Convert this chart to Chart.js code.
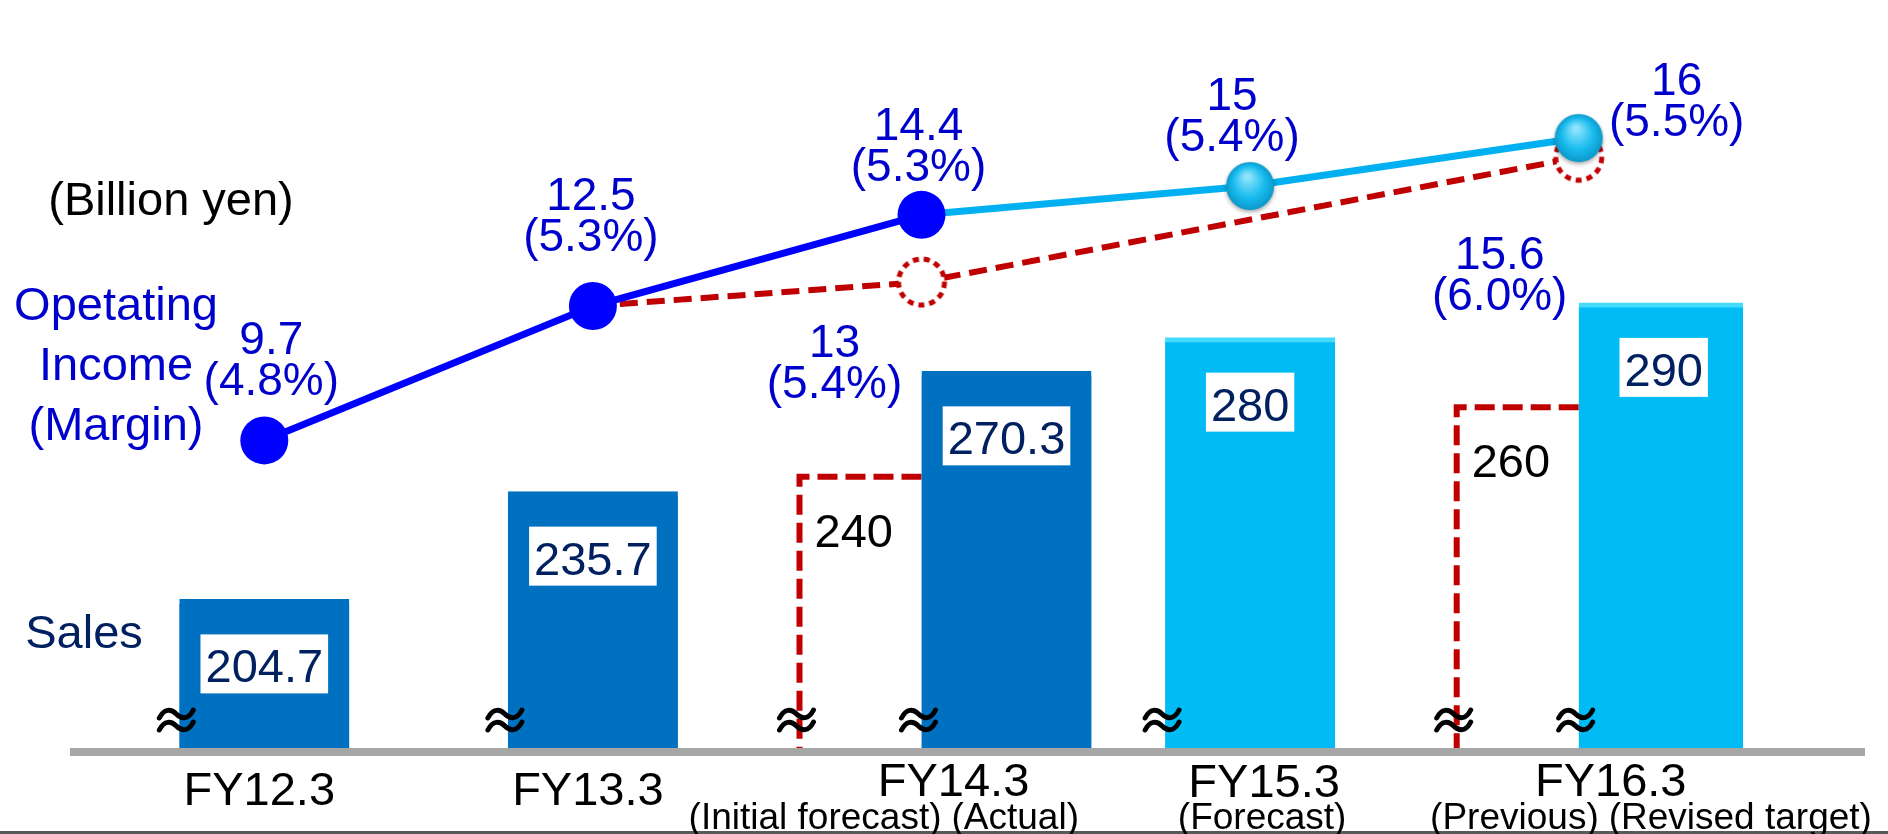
<!DOCTYPE html>
<html>
<head>
<meta charset="utf-8">
<script src="https://cdn.jsdelivr.net/npm/chart.js@4.4.0/dist/chart.umd.min.js"></script>
<style>
  html, body { margin: 0; padding: 0; background: #fff; }
  #wrap { width: 1888px; height: 834px; }
</style>
</head>
<body>
<div id="wrap"><canvas id="myChart" width="1888" height="834"></canvas></div>
<script>
const years = ['FY12.3', 'FY13.3', 'FY14.3', 'FY15.3', 'FY16.3'];
const yearNotes = [null, null, ['(Initial forecast)', '(Actual)'], ['(Forecast)'], ['(Previous)', '(Revised target)']];

// Sales (billion yen): earlier plan and actual / current target
const salesPlan = [null, null, 240, null, 260];
const salesActual = [204.7, 235.7, 270.3, 280, 290];

// Operating income (billion yen) and margin (%)
const incomeActual = [9.7, 12.5, 14.4, 15, 16];
const marginActual = [4.8, 5.3, 5.3, 5.4, 5.5];
const incomePlan = [null, 12.5, 13, null, 15.6];
const marginPlan = [null, null, 5.4, null, 6.0];

// broken value axes
const salesAxis = {min: 160.8, max: 368.5};
const incomeAxis = {min: 3.21, max: 18.25};

const FONT = '"Liberation Sans", Arial, sans-serif';
const BLUE_TXT = '#0000CC';
const NAVY = '#002060';
const RED = '#C00000';
const DARK_BAR = '#0070C0';
const LIGHT_BAR = '#00BBF4';

// label offsets from each point, first-line baseline
const incomeLabelPos = [[7, -86], [-2, -96], [-3, -75], [-18, -76], [98, -43]];
const planLabelPos = [null, null, [-87, 75], null, [-79, 112]];

function dottedMarker() {
    const c = document.createElement('canvas');
    c.width = 60; c.height = 60;
    const g = c.getContext('2d');
    g.beginPath();
    g.arc(30, 30, 23, 0, Math.PI * 2);
    g.fillStyle = '#fff';
    g.fill();
    g.setLineDash([6, 5]);
    g.lineWidth = 5;
    g.strokeStyle = RED;
    g.stroke();
    return c;
}

function glossyMarker() {
    const c = document.createElement('canvas');
    c.width = 64; c.height = 64;
    const g = c.getContext('2d');
    g.shadowColor = 'rgba(0,0,0,0.35)';
    g.shadowBlur = 4;
    g.shadowOffsetY = 2;
    const grad = g.createRadialGradient(29, 22, 2, 32, 32, 25);
    grad.addColorStop(0, '#8fe4fb');
    grad.addColorStop(0.6, '#19bbef');
    grad.addColorStop(1, '#0a95c6');
    g.beginPath();
    g.arc(32, 32, 24, 0, Math.PI * 2);
    g.fillStyle = grad;
    g.fill();
    return c;
}

// axis-break sign: two stacked tildes
function breakMark(ctx, x, y) {
    ctx.beginPath();
    [-6, 6].forEach(dy => {
        const yy = y + dy;
        ctx.moveTo(x - 17, yy + 4);
        ctx.bezierCurveTo(x - 12, yy - 6, x - 5, yy - 5, x, yy);
        ctx.bezierCurveTo(x + 5, yy + 5, x + 12, yy + 6, x + 17, yy - 4);
    });
    ctx.stroke();
}

const dotted = dottedMarker();
const glossy = glossyMarker();

const decorations = {
    id: 'decorations',
    beforeDatasetsDraw(chart) {
        // dashed outline of the plan bars; right side hides behind the actual bar
        const ctx = chart.ctx;
        const meta = chart.getDatasetMeta(2);
        const bottom = chart.chartArea.bottom;
        ctx.save();
        ctx.strokeStyle = RED;
        ctx.lineWidth = 6;
        ctx.setLineDash([20, 8]);
        meta.data.forEach((bar, i) => {
            if (salesPlan[i] == null) return;
            const {x, y, base, width} = bar.getProps(['x', 'y', 'base', 'width'], true);
            const b = Math.min(base, bottom);
            const l = x - width / 2, r = x + width / 2;
            ctx.beginPath();
            ctx.moveTo(r, y);
            ctx.lineTo(l, y);
            ctx.lineTo(l, b);
            ctx.lineTo(r, b);
            ctx.stroke();
        });
        ctx.restore();
    },
    afterDatasetsDraw(chart) {
        const ctx = chart.ctx;
        const xScale = chart.scales.x;
        ctx.save();

        // axis line and bottom rule
        ctx.fillStyle = '#A6A6A6';
        ctx.fillRect(70, 748, 1795, 8);
        ctx.fillStyle = '#595959';
        ctx.fillRect(0, 831, 1888, 3);

        // break marks at the left foot of every bar
        ctx.strokeStyle = '#000';
        ctx.lineWidth = 5;
        ctx.lineCap = 'round';
        [2, 3].forEach(di => {
            const src = di === 2 ? salesPlan : salesActual;
            chart.getDatasetMeta(di).data.forEach((bar, i) => {
                if (src[i] == null) return;
                const {x, width} = bar.getProps(['x', 'width'], true);
                breakMark(ctx, x - width / 2 - 3, 720);
            });
        });

        ctx.textBaseline = 'alphabetic';
        ctx.textAlign = 'center';

        // sales values in white boxes
        ctx.font = '47px ' + FONT;
        chart.getDatasetMeta(3).data.forEach((bar, i) => {
            const txt = String(salesActual[i]);
            const w = ctx.measureText(txt).width + 10;
            const top = bar.y + 35;
            ctx.fillStyle = '#fff';
            ctx.fillRect(bar.x - w / 2, top, w, 59);
            ctx.fillStyle = NAVY;
            ctx.fillText(txt, bar.x, top + 48);
        });

        // plan sales values
        ctx.textAlign = 'left';
        ctx.fillStyle = '#000';
        chart.getDatasetMeta(2).data.forEach((bar, i) => {
            if (salesPlan[i] == null) return;
            const {x, y, width} = bar.getProps(['x', 'y', 'width'], true);
            ctx.fillText(String(salesPlan[i]), x - width / 2 + 15, y + 70);
        });

        // operating income labels
        ctx.textAlign = 'center';
        ctx.fillStyle = BLUE_TXT;
        ctx.font = '46px ' + FONT;
        const drawIncome = (meta, values, margins, pos) => {
            meta.data.forEach((pt, i) => {
                if (margins[i] == null || !pos[i]) return;
                const lx = pt.x + pos[i][0], ly = pt.y + pos[i][1];
                ctx.fillText(String(values[i]), lx, ly);
                ctx.fillText('(' + margins[i].toFixed(1) + '%)', lx, ly + 41);
            });
        };
        drawIncome(chart.getDatasetMeta(0), incomeActual, marginActual, incomeLabelPos);
        drawIncome(chart.getDatasetMeta(1), incomePlan, marginPlan, planLabelPos);

        // category labels
        ctx.fillStyle = '#000';
        years.forEach((name, i) => {
            const cx = xScale.getPixelForValue(i);
            const notes = yearNotes[i];
            ctx.font = '47px ' + FONT;
            ctx.textAlign = 'center';
            if (!notes) {
                ctx.fillText(name, cx - 5, 805);
            } else if (notes.length === 1) {
                ctx.fillText(name, cx + 14, 797);
                ctx.font = '37px ' + FONT;
                ctx.fillText(notes[0], cx + 12, 829);
            } else {
                const j = cx + 24;
                ctx.fillText(name, j + 8, 796);
                ctx.font = '37px ' + FONT;
                ctx.textAlign = 'right';
                ctx.fillText(notes[0], j - 4, 829);
                ctx.textAlign = 'left';
                ctx.fillText(notes[1], j + 6, 829);
            }
        });

        // side captions
        ctx.textAlign = 'center';
        ctx.font = '47px ' + FONT;
        ctx.fillStyle = '#000';
        ctx.fillText('(Billion yen)', 171, 215);
        ctx.fillStyle = BLUE_TXT;
        ctx.fillText('Opetating', 116, 320);
        ctx.fillText('Income', 116, 380);
        ctx.fillText('(Margin)', 116, 440);
        ctx.fillStyle = NAVY;
        ctx.fillText('Sales', 84, 648);

        ctx.restore();
    }
};

const ctx = document.getElementById('myChart').getContext('2d');
const myChart = new Chart(ctx, {
    type: 'bar',
    data: {
        labels: years,
        datasets: [
            {
                type: 'line',
                label: 'Operating income',
                data: incomeActual,
                yAxisID: 'yInc',
                borderColor: '#0000FF',
                borderWidth: 7,
                segment: {
                    borderColor: c => c.p0DataIndex >= 2 ? '#00B0F0' : '#0000FF'
                },
                pointStyle: ['circle', 'circle', 'circle', glossy, glossy],
                pointRadius: 24,
                pointBackgroundColor: '#0000FF',
                pointBorderWidth: 0,
                tension: 0
            },
            {
                type: 'line',
                label: 'Operating income (plan)',
                data: incomePlan,
                yAxisID: 'yInc',
                borderColor: RED,
                borderWidth: 6,
                borderDash: [18, 9],
                spanGaps: true,
                pointStyle: dotted,
                pointRadius: [0, 0, 24, 0, 24],
                tension: 0
            },
            {
                label: 'Sales (plan)',
                data: salesPlan,
                yAxisID: 'ySales',
                base: salesAxis.min,
                backgroundColor: 'rgba(0,0,0,0)',
                borderWidth: 0,
                barThickness: 122,
                skipNull: true
            },
            {
                label: 'Sales',
                data: salesActual,
                yAxisID: 'ySales',
                base: salesAxis.min,
                backgroundColor: [DARK_BAR, DARK_BAR, DARK_BAR, LIGHT_BAR, LIGHT_BAR],
                borderColor: [DARK_BAR, DARK_BAR, DARK_BAR, '#45DBFB', '#45DBFB'],
                borderWidth: {top: 5, right: 0, bottom: 0, left: 0},
                borderSkipped: 'bottom',
                barThickness: 170,
                skipNull: true
            }
        ]
    },
    options: {
        responsive: false,
        devicePixelRatio: 1,
        animation: false,
        layout: {
            padding: {left: 100, right: 145, top: 0, bottom: 82}
        },
        plugins: {
            legend: {display: false},
            tooltip: {enabled: false}
        },
        scales: {
            x: {
                display: false,
                offset: true,
                grid: {display: false}
            },
            ySales: {
                type: 'linear',
                display: false,
                min: salesAxis.min,
                max: salesAxis.max
            },
            yInc: {
                type: 'linear',
                display: false,
                position: 'right',
                min: incomeAxis.min,
                max: incomeAxis.max
            }
        }
    },
    plugins: [decorations]
});
</script>
</body>
</html>
